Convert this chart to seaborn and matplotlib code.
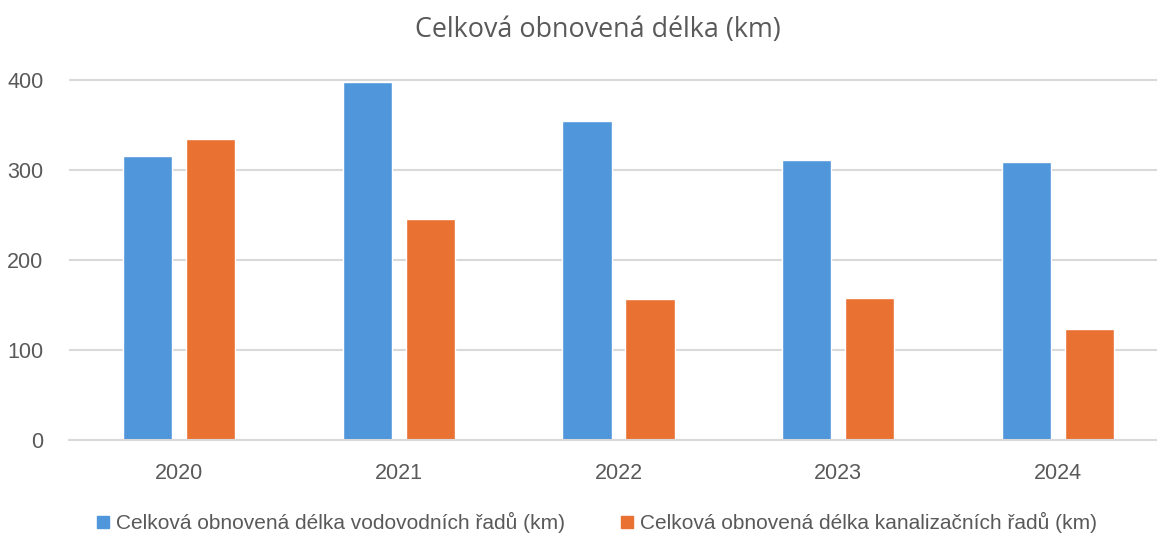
import pandas as pd
import seaborn as sns
import matplotlib.pyplot as plt
from matplotlib.lines import Line2D

# data
years = ["2020", "2021", "2022", "2023", "2024"]
vodovod = [316, 398, 354, 311, 309]
kanalizace = [334, 246, 157, 158, 123]
series_names = [
    "Celková obnovená délka vodovodních řadů (km)",
    "Celková obnovená délka kanalizačních řadů (km)",
]
colors = ["#5096DA", "#E97132"]
title = "Celková obnovená délka (km)"

df = pd.DataFrame({
    "rok": years * 2,
    "km": vodovod + kanalizace,
    "serie": [series_names[0]] * len(years) + [series_names[1]] * len(years),
})

sns.set_theme(style="white")
plt.rcParams["font.family"] = ["Liberation Sans", "DejaVu Sans"]
grey = "#595959"

fig = plt.figure(figsize=(11.57, 5.35), dpi=100)
ax = fig.add_axes([69 / 1157, 95 / 535, 1088 / 1157, 378 / 535])

sns.barplot(
    data=df, x="rok", y="km", hue="serie", palette=colors,
    width=0.573, gap=0.22, saturation=1, legend=False, ax=ax,
)

ax.set_xlim(-0.5, 4.45)
ax.set_ylim(0, 420)
ax.set_yticks([0, 100, 200, 300, 400])
ax.grid(axis="y", color="#D9D9D9", linewidth=1.5)
ax.set_axisbelow(True)
for s in ["top", "right", "left"]:
    ax.spines[s].set_visible(False)
ax.spines["bottom"].set_color("#D9D9D9")
ax.spines["bottom"].set_linewidth(1.5)
ax.tick_params(axis="both", length=0, labelsize=15.5, labelcolor=grey)
ax.tick_params(axis="x", pad=16.5)
ax.tick_params(axis="y", pad=18.5)
ax.set_xlabel("")
ax.set_ylabel("")

fig.text(0.517, 0.943, title, ha="center", va="center", fontsize=19.4,
         color=grey, family=["Open Sans", "DejaVu Sans"])

handles = [Line2D([], [], marker="s", linestyle="none", markersize=9,
                  markerfacecolor=c, markeredgecolor=c) for c in colors]
fig.legend(handles, series_names, loc="center", bbox_to_anchor=(0.5155, 0.023),
           ncol=2, frameon=False, fontsize=15, labelcolor=grey,
           handletextpad=0.3, columnspacing=2.6, handlelength=0.7)

fig.savefig("out.png", dpi=100)
